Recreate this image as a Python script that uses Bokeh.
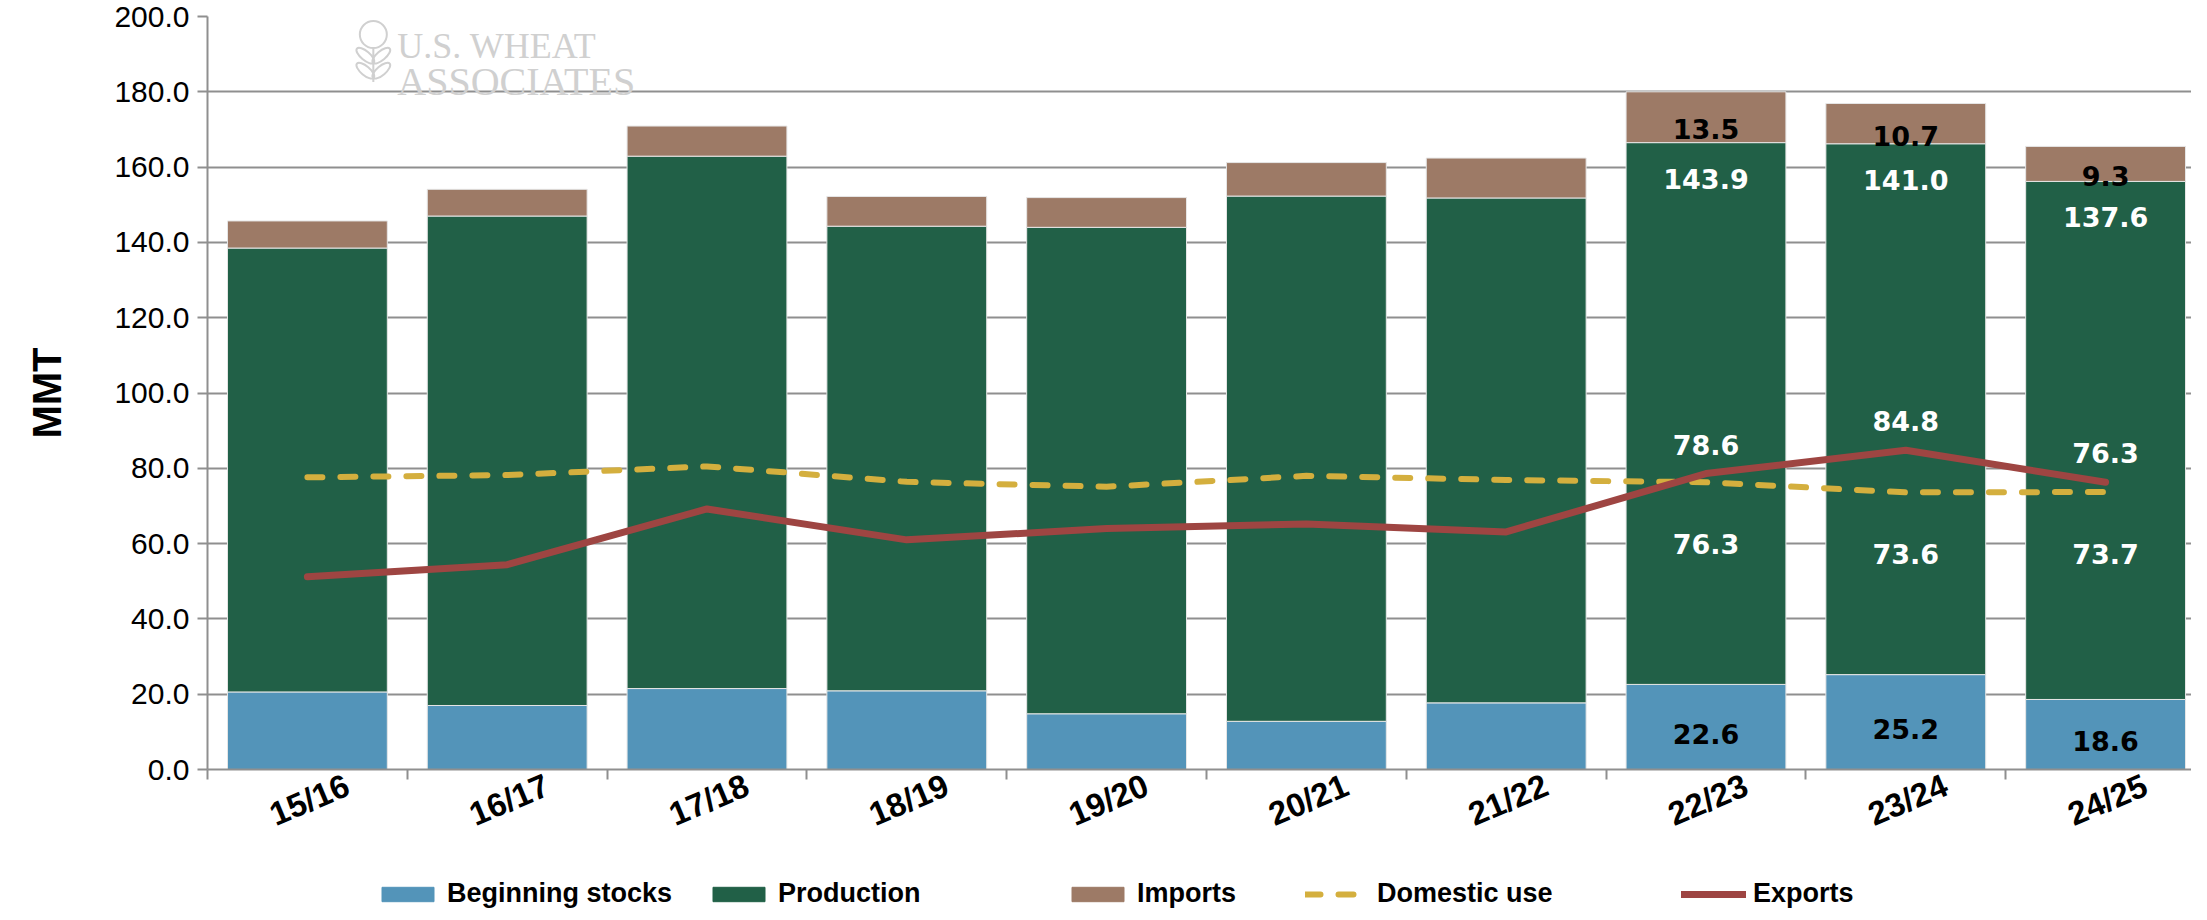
from bokeh.plotting import figure
from bokeh.layouts import column
from bokeh.models import (ColumnDataSource, FixedTicker, Legend, LegendItem, Label,
                          Range1d, NumeralTickFormatter)
from bokeh.embed import file_html
from bokeh.resources import INLINE
from bokeh.core.properties import value

# ---------------- data ----------------
years = ["15/16", "16/17", "17/18", "18/19", "19/20", "20/21", "21/22", "22/23", "23/24", "24/25"]
beginning_stocks = [20.6, 17.0, 21.5, 20.9, 14.8, 12.8, 17.7, 22.6, 25.2, 18.6]
production = [117.9, 130.0, 141.4, 123.4, 129.2, 139.5, 134.1, 143.9, 141.0, 137.6]
imports = [7.2, 7.1, 8.0, 7.9, 7.9, 8.9, 10.6, 13.5, 10.7, 9.3]
domestic_use = [77.6, 78.2, 80.5, 76.4, 75.1, 78.0, 76.9, 76.3, 73.6, 73.7]
exports = [51.2, 54.4, 69.2, 61.0, 64.0, 65.2, 63.1, 78.6, 84.8, 76.3]
labelled_years = ["22/23", "23/24", "24/25"]
y_ticks = [0, 20, 40, 60, 80, 100, 120, 140, 160, 180, 200]
series_names = ["Beginning stocks", "Production", "Imports", "Domestic use", "Exports"]

# ---------------- styles ----------------
C_BS = "#5394b9"
C_PROD = "#216047"
C_IMP = "#9d7a66"
C_DOM = "#d4af3e"
C_EXP = "#9e4542"
GRID = "#8f8f8f"
WM = "#d0d0d0"
W = 2191
LEGEND_X = [168, 499, 858, 1098, 1474]   # screen x of each legend entry (frame-relative)

xs = list(range(len(years)))
src = ColumnDataSource(dict(x=xs, bs=beginning_stocks, prod=production, imp=imports,
                            dom=domestic_use, exp=exports))

p = figure(width=W, height=863, x_range=Range1d(-0.5, 9.43), y_range=Range1d(0, 200),
           output_backend="svg", toolbar_location=None,
           min_border_left=207, min_border_right=0, min_border_top=16, min_border_bottom=94)
p.outline_line_color = None
p.background_fill_color = "white"

bars = p.vbar_stack(["bs", "prod", "imp"], x="x", width=0.8, color=[C_BS, C_PROD, C_IMP],
                    line_color="#e6e6e6", line_width=1, source=src)
dom_style = dict(line_color=C_DOM, line_width=6, line_dash="15 18", line_cap="round",
                 line_join="round")
exp_style = dict(line_color=C_EXP, line_width=7, line_cap="round", line_join="round")
p.line("x", "dom", source=src, **dom_style)
p.line("x", "exp", source=src, **exp_style)

# ---------------- data labels (last three seasons) ----------------
idx = [years.index(y) for y in labelled_years]
lab = ColumnDataSource(dict(
    x=[xs[i] for i in idx],
    bs_mid=[beginning_stocks[i] / 2 for i in idx],
    bs_txt=["%.1f" % beginning_stocks[i] for i in idx],
    prod_top=[beginning_stocks[i] + production[i] for i in idx],
    prod_txt=["%.1f" % production[i] for i in idx],
    imp_mid=[beginning_stocks[i] + production[i] + imports[i] / 2 for i in idx],
    imp_txt=["%.1f" % imports[i] for i in idx],
    dom=[domestic_use[i] for i in idx],
    dom_txt=["%.1f" % domestic_use[i] for i in idx],
    exp=[exports[i] for i in idx],
    exp_txt=["%.1f" % exports[i] for i in idx],
))
common = dict(source=lab, text_font=value("DejaVu Sans"), text_font_style="bold",
              text_font_size="27px", text_align="center", text_baseline="middle")
p.text(x="x", y="bs_mid", text="bs_txt", text_color="black", y_offset=7, **common)
p.text(x="x", y="prod_top", text="prod_txt", text_color="white", y_offset=36, **common)
p.text(x="x", y="imp_mid", text="imp_txt", text_color="black", y_offset=12, **common)
p.text(x="x", y="dom", text="dom_txt", text_color="white", y_offset=62, **common)
p.text(x="x", y="exp", text="exp_txt", text_color="white", y_offset=-29, **common)

# ---------------- watermark ----------------
wm = dict(text_color=WM, text_font="Liberation Serif", text_baseline="top", text_align="left")
p.add_layout(Label(x=0.45, y=197.6, text="U.S. WHEAT", text_font_size="36px", **wm))
p.add_layout(Label(x=0.45, y=188.8, text="ASSOCIATES", text_font_size="40px", **wm))
p.scatter(x=[0.33], y=[195.2], size=27, marker="circle", fill_color=None,
          line_color=WM, line_width=2)
p.segment(x0=[0.33], y0=[191.5], x1=[0.33], y1=[182.6], line_color=WM, line_width=2)
p.ellipse(x=[0.29, 0.37, 0.29, 0.37], y=[189.6, 189.6, 185.6, 185.6], width=22, height=9,
          width_units="screen", height_units="screen", angle=[-0.7, 0.7, -0.7, 0.7],
          fill_color=None, line_color=WM, line_width=2)

# ---------------- axes ----------------
p.xgrid.visible = False
p.ygrid.ticker = FixedTicker(ticks=y_ticks)
p.ygrid.grid_line_color = GRID
p.ygrid.grid_line_width = 2

ya = p.yaxis[0]
ya.ticker = FixedTicker(ticks=y_ticks)
ya.formatter = NumeralTickFormatter(format="0.0")
ya.major_label_text_font = "Liberation Sans"
ya.major_label_text_font_size = "30px"
ya.major_label_text_color = "black"
ya.axis_line_color = GRID
ya.axis_line_width = 2
ya.major_tick_line_color = GRID
ya.major_tick_line_width = 2
ya.major_tick_out = 10
ya.major_tick_in = 0
ya.minor_tick_line_color = None
ya.major_label_standoff = 8
ya.axis_label = "MMT"
ya.axis_label_text_font = "Liberation Sans"
ya.axis_label_text_font_style = "bold"
ya.axis_label_text_font_size = "40px"
ya.axis_label_text_color = "black"
ya.axis_label_standoff = 42

label_shift = 0.2
xa = p.xaxis[0]
xa.ticker = FixedTicker(ticks=[i + label_shift for i in xs],
                        minor_ticks=[i - 0.5 for i in range(len(years) + 1)])
xa.major_label_overrides = {i + label_shift: y for i, y in zip(xs, years)}
xa.major_label_orientation = 0.4
xa.major_label_text_font = "Liberation Sans"
xa.major_label_text_font_style = "bold"
xa.major_label_text_font_size = "33px"
xa.major_label_text_color = "black"
xa.major_tick_line_color = None
xa.major_tick_out = 10
xa.minor_tick_line_color = GRID
xa.minor_tick_line_width = 2
xa.minor_tick_out = 10
xa.minor_tick_in = 0
xa.axis_line_color = GRID
xa.axis_line_width = 2
xa.major_label_standoff = 4

# ---------------- legend strip (keys drawn from the same data, kept out of view) ----------------
lf = figure(width=W, height=48, x_range=Range1d(-0.5, 9.43), y_range=Range1d(300, 301),
            x_axis_type=None, y_axis_type=None, output_backend="svg",
            toolbar_location=None, min_border=0)
lf.outline_line_color = None
lf.xgrid.visible = False
lf.ygrid.visible = False
key_renderers = [
    lf.vbar(x="x", top="bs", width=0.8, color=C_BS, source=src),
    lf.vbar(x="x", top="prod", width=0.8, color=C_PROD, source=src),
    lf.vbar(x="x", top="imp", width=0.8, color=C_IMP, source=src),
    lf.line("x", "dom", source=src, **dom_style),
    lf.line("x", "exp", source=src, **exp_style),
]
for name, r, lx in zip(series_names, key_renderers, LEGEND_X):
    lf.add_layout(Legend(items=[LegendItem(label=name, renderers=[r])], location=(lx, 2),
                         orientation="horizontal", glyph_width=65, glyph_height=18,
                         label_standoff=7, label_text_font="Liberation Sans",
                         label_text_font_style="bold", label_text_font_size="27px",
                         label_text_color="black", border_line_color=None,
                         background_fill_alpha=0, padding=0, margin=0))

layout = column(p, lf, spacing=0)
open("out.html", "w").write(file_html(layout, INLINE))
